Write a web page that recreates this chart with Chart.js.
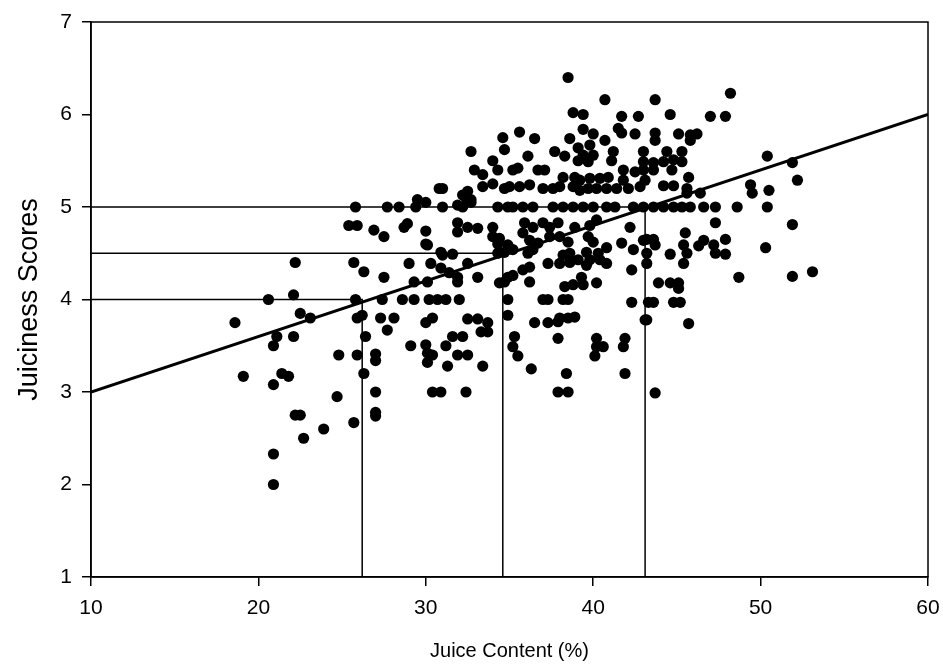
<!DOCTYPE html>
<html>
<head>
<meta charset="utf-8">
<script src="https://cdn.jsdelivr.net/npm/chart.js@4/dist/chart.umd.min.js"></script>
<style>
  html, body { margin: 0; padding: 0; background: #fff; }
</style>
</head>
<body>
<canvas id="juice-canvas" width="943" height="669"></canvas>
<script>
// juice content (%) of each sample
const juiceContent = [
  22.2, 25.7, 26.3, 20.6, 22.1, 25.8, 18.6, 22.5, 23.1, 25.9, 21.1, 22.1, 20.9, 26.4, 24.8, 25.9,
  19.1, 21.4, 21.8, 20.9, 26.3, 24.7, 22.2, 22.5, 23.9, 25.7, 22.7, 20.9, 20.9, 25.8, 25.4, 25.9,
  34.6, 34.7, 32.7, 34.0, 32.9, 33.4, 34.3, 34.0, 33.4, 34.7, 31.0, 30.8, 32.5, 32.2, 32.4, 32.7,
  29.5, 30.0, 27.7, 28.4, 29.4, 31.0, 31.9, 32.2, 32.7, 34.3, 34.9,
  26.9, 27.5, 28.7, 28.9, 30.0, 31.9, 31.9, 32.5, 33.1, 34.0, 34.0, 34.4, 34.3, 30.0, 30.1, 30.9,
  31.0, 31.6, 34.3, 34.7,
  27.5, 29.0, 30.3, 30.9, 31.4, 31.9, 31.9, 32.5, 33.1, 29.3, 30.1, 34.4, 34.7,
  27.4, 28.6, 29.3, 30.2, 30.7, 31.2, 32.0, 34.9, 26.2, 27.3, 28.1, 27.7, 30.0, 30.4, 32.5, 33.1,
  33.7, 33.3, 33.7, 34.9, 31.6, 32.2, 29.1, 30.0, 30.1, 30.4, 30.1, 31.2, 27.0, 27.0, 31.9, 32.5,
  31.3, 33.4, 27.0, 30.4, 30.9, 32.4, 27.0, 27.0,
  38.5, 40.7, 38.8, 39.4, 41.7, 42.7, 35.6, 36.5, 39.4, 40.0, 41.5, 41.7, 42.5, 38.6, 40.7, 36.1,
  37.7, 38.3, 39.1, 39.8, 39.4, 40.0, 39.1, 39.7, 41.2, 41.1, 43.0, 35.2, 35.5, 36.7, 37.1, 38.2,
  38.9, 39.2, 39.8, 40.4, 40.9, 41.8, 41.8, 42.5, 43.0, 43.1,
  35.0, 35.6, 36.2, 37.0, 37.6, 38.0, 38.8, 39.2, 39.7, 40.2, 40.8, 41.4, 42.1, 42.8,
  35.2, 35.8, 36.4, 37.6, 38.2, 38.8, 39.4, 40.0, 40.8, 41.3, 42.4, 43.0,
  35.9, 36.4, 35.8, 37.0, 37.4, 37.9, 38.9, 39.8, 40.2, 42.2, 36.2, 36.7, 37.4, 38.0, 38.5, 39.7,
  40.0, 40.8, 41.7, 43.0, 34.9, 35.2, 36.1, 36.4, 38.2, 38.6, 39.1, 39.6, 39.8, 40.3, 40.4, 42.4,
  37.3, 38.0, 38.6, 39.6, 40.8, 35.8, 36.2, 42.3, 43.2, 34.9, 35.2,
  36.2, 38.3, 38.8, 39.3, 39.4, 40.2, 37.0, 37.3, 38.2, 38.5, 42.3, 43.3, 36.5, 37.3, 37.9, 38.0,
  38.5, 38.9, 43.1, 35.3, 35.2, 35.5, 37.9, 40.2, 40.2, 40.6, 40.1, 41.9, 41.8, 36.3, 38.4, 41.9,
  37.9, 38.5,
  48.2, 43.7, 44.6, 47.0, 47.9, 43.7, 43.7, 45.1, 45.8, 46.2, 45.8, 44.4, 45.3, 43.6, 44.2, 44.8,
  45.3, 43.0, 43.6, 44.7, 45.7, 44.2, 44.8, 45.6, 45.6, 46.4, 49.4, 49.5, 50.5, 50.4, 51.9, 52.2,
  43.6, 44.2, 44.8, 45.3, 45.8, 46.6, 47.3, 48.6, 50.4,
  47.3, 51.9, 45.5, 43.2, 43.6, 43.7, 43.2, 45.4, 45.6, 45.4, 46.3, 46.6, 47.2, 47.3, 47.9, 47.9,
  44.6, 50.3, 48.7, 51.9, 53.1, 43.9, 44.6, 45.1, 45.1, 43.6, 44.8, 45.2, 43.2, 45.7, 43.7
]

// juiciness score of the same samples
const juicinessScores = [
  4.4, 4.4, 4.3, 4.0, 4.05, 4.0, 3.75, 3.85, 3.8, 3.8, 3.6, 3.6, 3.5, 3.6, 3.4, 3.4,
  3.17, 3.2, 3.17, 3.08, 3.2, 2.95, 2.75, 2.75, 2.6, 2.67, 2.5, 2.33, 2.0, 5.0, 4.8, 4.8,
  5.75, 5.62, 5.6, 5.5, 5.4, 5.35, 5.4, 5.25, 5.22, 5.2, 5.2, 5.2, 5.17, 5.13, 5.1, 5.08,
  5.08, 5.05, 5.0, 5.0, 5.0, 5.0, 5.02, 5.0, 5.05, 5.0, 5.0,
  4.75, 4.68, 4.78, 4.82, 4.74, 4.83, 4.73, 4.78, 4.77, 4.78, 4.68, 4.66, 4.6, 4.6, 4.59, 4.51,
  4.48, 4.49, 4.5, 4.51,
  4.24, 4.39, 4.39, 4.34, 4.29, 4.24, 4.19, 4.39, 4.24, 4.19, 4.19, 4.18, 4.19,
  4.0, 4.0, 4.0, 4.0, 4.0, 4.0, 4.0, 4.0, 3.83, 3.8, 3.8, 3.67, 3.75, 3.8, 3.79, 3.79,
  3.75, 3.65, 3.65, 3.83, 3.6, 3.6, 3.5, 3.51, 3.42, 3.4, 3.32, 3.5, 3.41, 3.34, 3.4, 3.4,
  3.28, 3.28, 3.0, 3.0, 3.0, 3.0, 2.78, 2.74,
  6.4, 6.16, 6.02, 6.0, 5.98, 5.98, 5.81, 5.74, 5.84, 5.79, 5.85, 5.8, 5.79, 5.74, 5.72, 5.55,
  5.6, 5.55, 5.64, 5.67, 5.56, 5.56, 5.5, 5.49, 5.6, 5.5, 5.6, 5.4, 5.42, 5.4, 5.4, 5.32,
  5.32, 5.29, 5.31, 5.31, 5.32, 5.4, 5.29, 5.38, 5.4, 5.29,
  5.22, 5.22, 5.24, 5.2, 5.2, 5.22, 5.22, 5.18, 5.2, 5.2, 5.2, 5.2, 5.2, 5.22,
  5.0, 5.0, 5.0, 5.0, 5.0, 5.0, 5.0, 5.0, 5.0, 5.0, 5.0, 5.0,
  4.83, 4.78, 4.72, 4.83, 4.78, 4.83, 4.78, 4.8, 4.86, 4.78, 4.64, 4.61, 4.68, 4.68, 4.62, 4.68,
  4.62, 4.56, 4.61, 4.64, 4.59, 4.54, 4.5, 4.54, 4.48, 4.5, 4.43, 4.51, 4.43, 4.5, 4.43, 4.54,
  4.39, 4.39, 4.4, 4.37, 4.39, 4.32, 4.35, 4.32, 4.39, 4.24, 4.26,
  4.19, 4.14, 4.16, 4.24, 4.16, 4.18, 4.0, 4.0, 4.0, 4.0, 3.97, 3.97, 3.75, 3.75, 3.76, 3.8,
  3.8, 3.81, 3.78, 3.6, 3.49, 3.39, 3.58, 3.58, 3.49, 3.49, 3.39, 3.58, 3.49, 3.25, 3.2, 3.2,
  3.0, 3.0,
  6.23, 6.16, 6.0, 5.98, 5.98, 5.8, 5.72, 5.79, 5.78, 5.79, 5.72, 5.6, 5.6, 5.48, 5.49, 5.51,
  5.49, 5.49, 5.4, 5.4, 5.32, 5.23, 5.23, 5.2, 5.15, 5.15, 5.24, 5.15, 5.18, 5.55, 5.48, 5.29,
  5.0, 5.0, 5.0, 5.0, 5.0, 5.0, 5.0, 5.0, 5.0,
  4.83, 4.81, 4.72, 4.65, 4.65, 4.59, 4.5, 4.59, 4.5, 4.39, 4.58, 4.64, 4.59, 4.5, 4.65, 4.49,
  4.49, 4.56, 4.24, 4.25, 4.3, 4.18, 4.18, 4.18, 4.12, 3.97, 3.97, 3.97, 3.78, 3.74, 2.99
]

// fitted line end points
const fitJuice = [10, 60]
const fitScore = [3.0, 6.0]

// score levels and the juice content where the fitted line meets them
const refScores = [4.0, 4.5, 5.0]
const refJuice = [26.2, 34.6, 43.1]

const xTicks = [10, 20, 30, 40, 50, 60]
const yTicks = [1, 2, 3, 4, 5, 6, 7]

const fontFamily = "Arial, 'Liberation Sans', sans-serif"

const samplePoints = juiceContent.map((x, i) => ({ x, y: juicinessScores[i] }))

const refDatasets = refScores.map((score, i) => ({
    label: `Score ${score}`,
    data: [
        { x: xTicks[0], y: score },
        { x: refJuice[i], y: score },
        { x: refJuice[i], y: yTicks[0] }
    ],
    showLine: true,
    borderColor: '#000',
    borderWidth: 1.5,
    pointRadius: 0,
    fill: false
}))

const frame = {
    id: 'frame',
    afterDraw(chart) {
        const { ctx, chartArea: a } = chart
        ctx.save()
        ctx.strokeStyle = '#000'
        ctx.lineWidth = 1.5
        ctx.strokeRect(a.left, a.top, a.right - a.left, a.bottom - a.top)
        ctx.restore()
    }
}

new Chart(
    document.querySelector('#juice-canvas'),
    {
        type: 'scatter',
        plugins: [frame],
        data: {
            datasets: [
                {
                    label: 'Samples',
                    data: samplePoints,
                    backgroundColor: '#000',
                    borderWidth: 0,
                    pointRadius: 5.6
                },
                ...refDatasets,
                {
                    label: 'Fit',
                    data: fitJuice.map((x, i) => ({ x, y: fitScore[i] })),
                    showLine: true,
                    borderColor: '#000',
                    borderWidth: 3,
                    pointRadius: 0,
                    fill: false
                }
            ]
        },
        options: {
            responsive: false,
            animation: false,
            layout: {
                padding: { top: 22, right: 15, left: 0, bottom: 0 }
            },
            plugins: {
                legend: { display: false },
                tooltip: { enabled: false }
            },
            scales: {
                x: {
                    type: 'linear',
                    min: xTicks[0],
                    max: xTicks[xTicks.length - 1],
                    afterBuildTicks: scale => { scale.ticks = xTicks.map(v => ({ value: v })) },
                    afterFit: scale => {
                        scale.height = 92
                        scale.paddingLeft = 0
                        scale.paddingRight = 0
                    },
                    border: { color: '#000', width: 1.5 },
                    grid: { drawOnChartArea: false, color: '#000', lineWidth: 1.5, tickLength: 9 },
                    ticks: {
                        color: '#000',
                        padding: 10,
                        maxRotation: 0,
                        font: { family: fontFamily, size: 21 }
                    },
                    title: {
                        display: true,
                        text: 'Juice Content (%)',
                        color: '#000',
                        padding: { top: 0, bottom: 6 },
                        font: { family: fontFamily, size: 20 }
                    }
                },
                y: {
                    type: 'linear',
                    min: yTicks[0],
                    max: yTicks[yTicks.length - 1],
                    afterBuildTicks: scale => { scale.ticks = yTicks.map(v => ({ value: v })) },
                    afterFit: scale => {
                        scale.width = 91
                        scale.paddingTop = 0
                        scale.paddingBottom = 0
                    },
                    border: { color: '#000', width: 1.5 },
                    grid: { drawOnChartArea: false, color: '#000', lineWidth: 1.5, tickLength: 9 },
                    ticks: {
                        color: '#000',
                        padding: 10,
                        font: { family: fontFamily, size: 21 }
                    },
                    title: {
                        display: true,
                        text: 'Juiciness Scores',
                        color: '#000',
                        padding: { top: 13, bottom: 0 },
                        font: { family: fontFamily, size: 27 }
                    }
                }
            }
        }
    }
)
</script>
</body>
</html>
